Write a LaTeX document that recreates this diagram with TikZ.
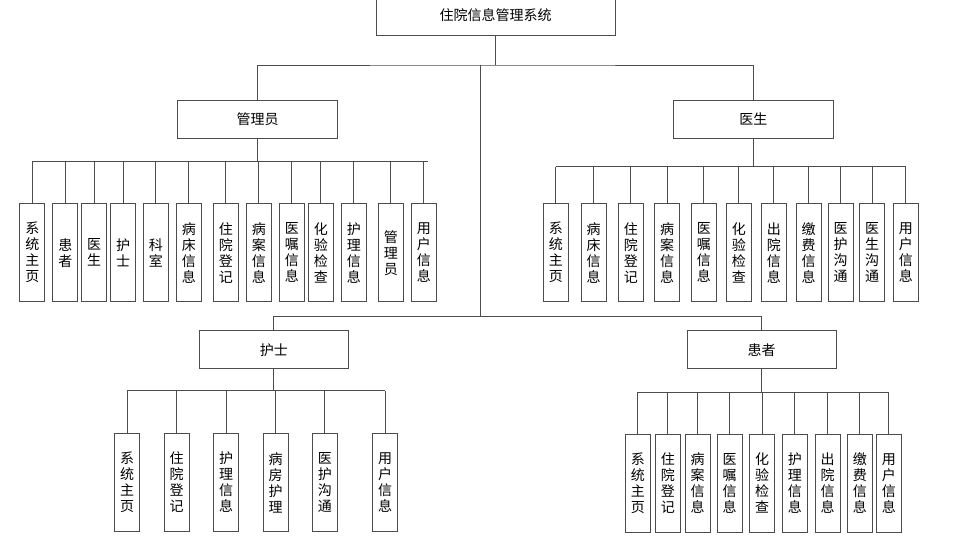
\documentclass[tikz,border=0pt]{standalone}
\usepackage{fontspec}
\newfontfamily\cjk{Noto Sans CJK SC}
\usetikzlibrary{positioning,calc}

\begin{document}
\begin{tikzpicture}[x=1pt,y=-1pt,
    wide/.style={rectangle,draw=black!70,line width=0.9pt,
                minimum width=160pt,minimum height=38pt,inner sep=0pt,
                font=\cjk\fontsize{14}{16}\selectfont},
    tall/.style={rectangle,draw=black!70,line width=0.9pt,align=center,
                minimum width=25pt,minimum height=98pt,inner sep=0pt,
                font=\cjk\fontsize{14}{16}\selectfont},
    conn/.style={draw=black!70,line width=0.9pt}
  ]
    \useasboundingbox (0,0) rectangle (967,545);
    % top level
    \node[wide,minimum width=239pt,minimum height=40pt] (sys) at (495.5,15) {住院信息管理系统};
    \node[wide] (admin) at (257.5,119.2) {管理员};
    \node[wide] (doc) at (753.3,119.2) {医生};
    \node[wide,minimum width=149pt] (nurse) at (273.8,349.8) {护士};
    \node[wide,minimum width=149pt] (pat) at (761.5,349.8) {患者};
    \coordinate (top) at (480,65);
    \coordinate (mid) at (480,316.7);
    \draw[conn] (sys.south) -- (sys.south |- top);
    \draw[conn] (admin.north) |- (top) -| (doc.north);
    \draw[conn] (top) -- (mid);
    \draw[conn] (nurse.north) |- (mid) -| (pat.north);
    % 管理员
    \coordinate (abus) at (0,161);
    \foreach \x/\t [count=\i] in {32.3/系\\统\\主\\页,65.3/患\\者,94/医\\生,123/护\\士,
        155.8/科\\室,188.8/病\\床\\信\\息,225.8/住\\院\\登\\记,258.8/病\\案\\信\\息,
        291.8/医\\嘱\\信\\息,320.8/化\\验\\检\\查,353.8/护\\理\\信\\息,390.8/管\\理\\员,
        423.8/用\\户\\信\\息}{
      \node[tall] (a\i) at (\x,252.7) {\t};
      \draw[conn] (a\i.north) -- (a\i.north |- abus);
    }
    \draw[conn] (admin.south) -- (admin.south |- abus);
    \draw[conn] (a1.north |- abus) -- ($(a13.north |- abus)+(4.5,0)$);
    % 医生
    \coordinate (dbus) at (0,166.7);
    \foreach \x/\t [count=\i] in {555.8/系\\统\\主\\页,593.5/病\\床\\信\\息,630.8/住\\院\\登\\记,
        667.2/病\\案\\信\\息,703.8/医\\嘱\\信\\息,738.8/化\\验\\检\\查,773.8/出\\院\\信\\息,
        808.5/缴\\费\\信\\息,840.5/医\\护\\沟\\通,872.2/医\\生\\沟\\通,905.8/用\\户\\信\\息}{
      \node[tall] (d\i) at (\x,252.7) {\t};
      \draw[conn] (d\i.north) -- (d\i.north |- dbus);
    }
    \draw[conn] (doc.south) -- (doc.south |- dbus);
    \draw[conn] (d1.north |- dbus) -- (d11.north |- dbus);
    % 护士
    \coordinate (nbus) at (0,390.7);
    \foreach \x/\t [count=\i] in {127/系\\统\\主\\页,176.7/住\\院\\登\\记,226/护\\理\\信\\息,
        275.5/病\\房\\护\\理,324.8/医\\护\\沟\\通,385.2/用\\户\\信\\息}{
      \node[tall] (n\i) at (\x,482.5) {\t};
      \draw[conn] (n\i.north) -- (n\i.north |- nbus);
    }
    \draw[conn] (nurse.south) -- (nurse.south |- nbus);
    \draw[conn] (n1.north |- nbus) -- (n6.north |- nbus);
    % 患者
    \coordinate (pbus) at (0,392);
    \foreach \x/\t [count=\i] in {637.8/系\\统\\主\\页,667.8/住\\院\\登\\记,697.5/病\\案\\信\\息,
        729.5/医\\嘱\\信\\息,762.2/化\\验\\检\\查,794.8/护\\理\\信\\息,827.5/出\\院\\信\\息,
        859.8/缴\\费\\信\\息,888.8/用\\户\\信\\息}{
      \node[tall] (p\i) at (\x,483.3) {\t};
      \draw[conn] (p\i.north) -- (p\i.north |- pbus);
    }
    \draw[conn] (pat.south) -- (pat.south |- pbus);
    \draw[conn] (p1.north |- pbus) -- (p9.north |- pbus);
  \end{tikzpicture}
\end{document}
